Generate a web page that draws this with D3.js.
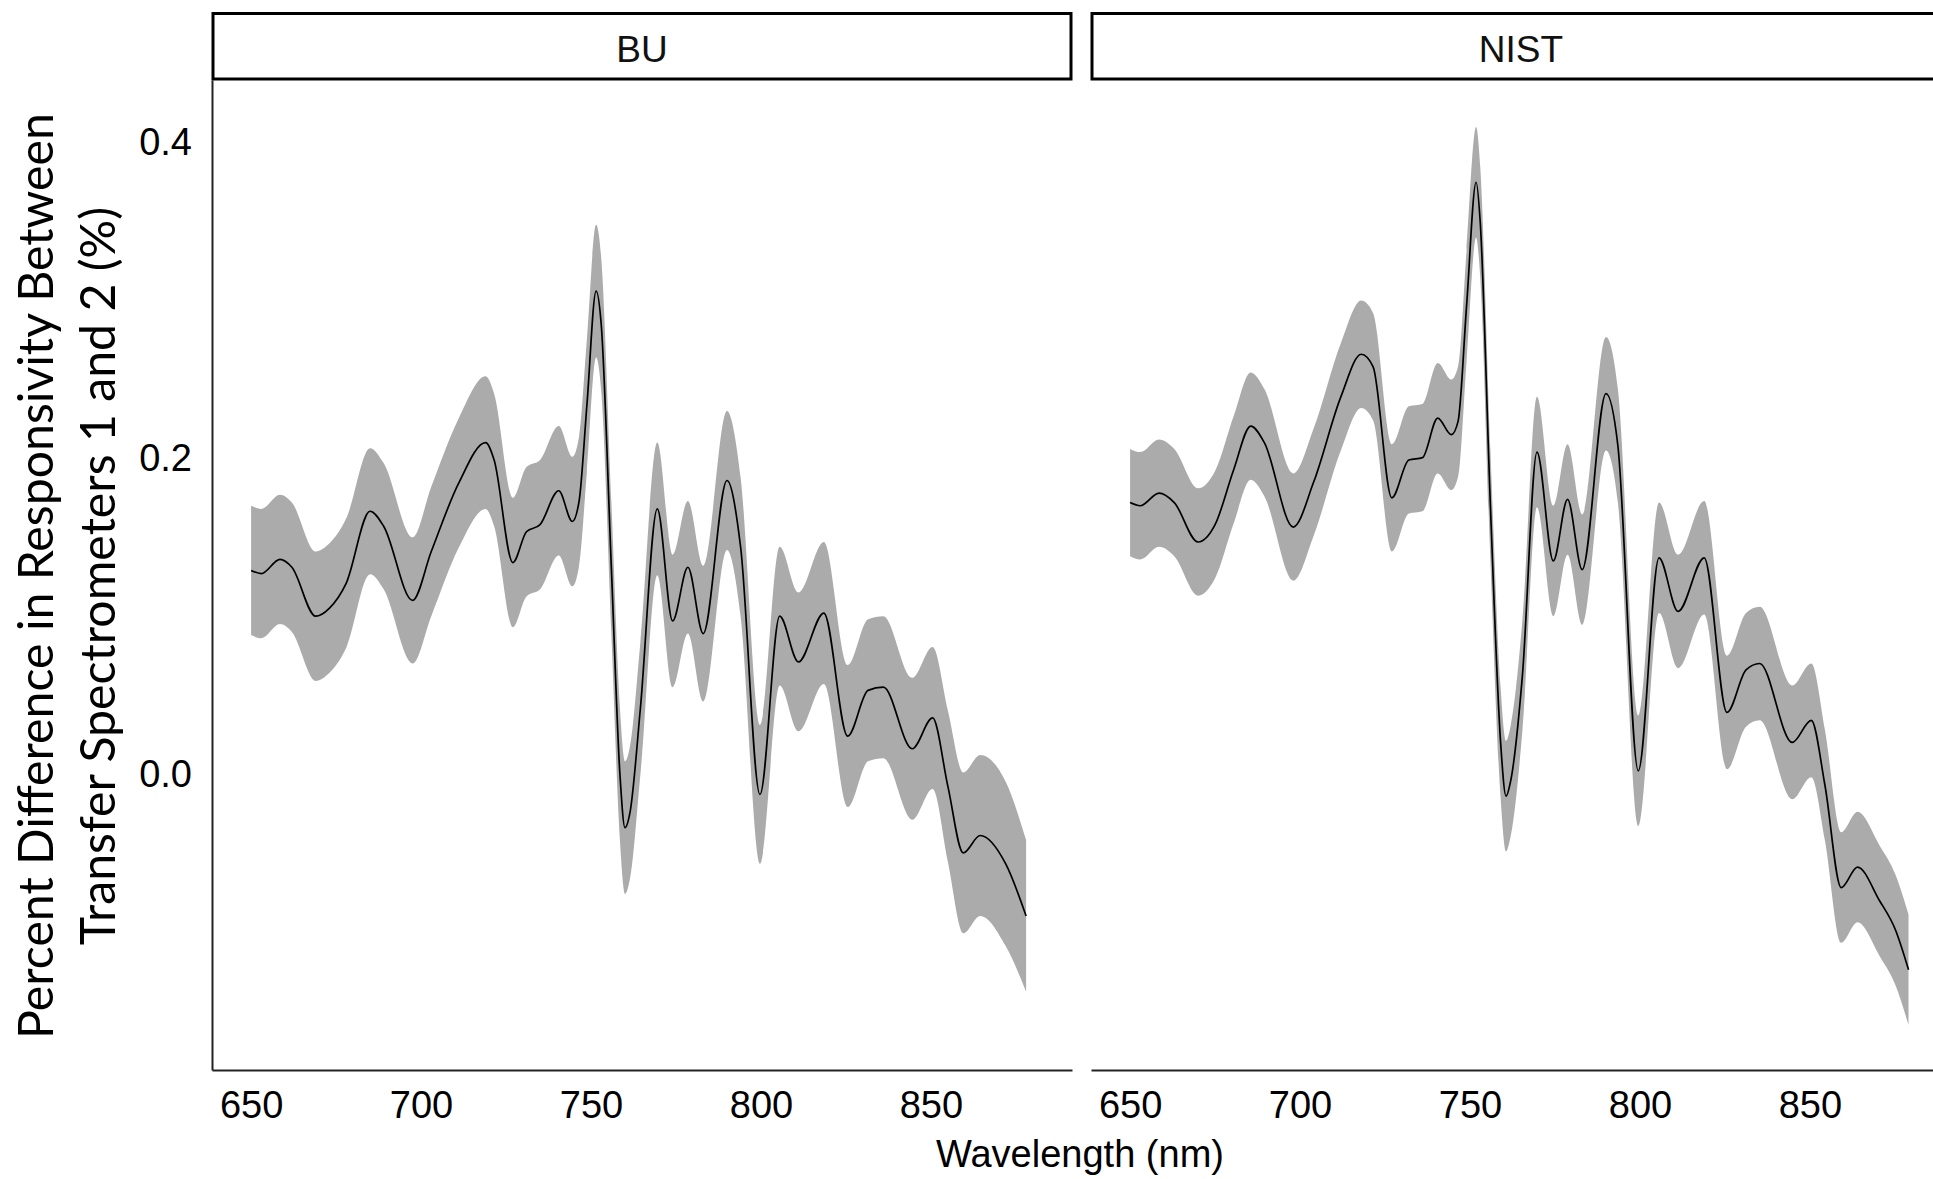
<!DOCTYPE html>
<html>
<head>
<meta charset="utf-8">
<script src="https://cdn.jsdelivr.net/npm/d3@7"></script>
<style>
    body { margin: 0; background: #fff; overflow: hidden; }
</style>
</head>
<body>
<script>
// panel names
var panels = ["BU", "NIST"];

// BU : wavelength (nm), smoothed difference (%), standard error
var buWave = [650, 653, 658.5, 662, 669, 673, 678, 685, 689, 697.5, 703, 711, 719, 721.5, 727, 731, 735, 740.5, 744.5, 746.5, 748.8, 751.5, 753, 756, 758.5, 760, 761.5, 764.5, 769.5, 774, 778.5, 783, 790, 794, 799.7, 805.5, 811, 818.5, 825.5, 831.5, 836, 844.5, 850.5, 855, 859.5, 864.5, 872, 878];
var buMid = [0.129, 0.127, 0.136, 0.131, 0.100, 0.105, 0.121, 0.1665, 0.157, 0.110, 0.141, 0.184, 0.210, 0.199, 0.134, 0.1535, 0.158, 0.1795, 0.160, 0.173, 0.234, 0.306, 0.285, 0.130, 0.000, -0.034, -0.024, 0.041, 0.168, 0.097, 0.131, 0.089, 0.186, 0.144, -0.013, 0.100, 0.071, 0.102, 0.024, 0.053, 0.055, 0.016, 0.0355, -0.008, -0.050, -0.039, -0.057, -0.090];
var buSe = [0.041, 0.041, 0.041, 0.041, 0.041, 0.041, 0.041, 0.040, 0.040, 0.040, 0.041, 0.041, 0.042, 0.042, 0.041, 0.041, 0.041, 0.041, 0.041, 0.041, 0.042, 0.042, 0.042, 0.042, 0.042, 0.042, 0.042, 0.042, 0.042, 0.042, 0.042, 0.043, 0.044, 0.044, 0.044, 0.044, 0.044, 0.045, 0.045, 0.045, 0.045, 0.045, 0.045, 0.048, 0.051, 0.051, 0.052, 0.048];

// NIST : wavelength (nm), smoothed difference (%), standard error
var nistWave = [650, 653, 658.5, 663, 670, 675, 680.5, 685.5, 689.5, 698, 704, 712, 718, 721.5, 727, 732, 736, 740.5, 744.5, 746.5, 749, 751.8, 753, 756, 759, 760.6, 762, 765.4, 769.7, 774.5, 778.7, 783, 790, 793.5, 799.5, 805.6, 811.2, 818.9, 825.6, 831.2, 835.2, 844.8, 850.4, 854.4, 859.2, 864, 870.4, 875.2, 879];
var nistMid = [0.172, 0.170, 0.178, 0.172, 0.147, 0.158, 0.193, 0.2205, 0.210, 0.1565, 0.185, 0.239, 0.266, 0.258, 0.175, 0.199, 0.2005, 0.2255, 0.215, 0.2236, 0.297, 0.375, 0.350, 0.170, 0.020, -0.014, -0.004, 0.062, 0.204, 0.135, 0.174, 0.1295, 0.241, 0.208, 0.002, 0.137, 0.103, 0.137, 0.039, 0.066, 0.070, 0.020, 0.034, -0.007, -0.072, -0.059, -0.080, -0.099, -0.124];
var nistSe = [0.034, 0.034, 0.034, 0.034, 0.034, 0.034, 0.034, 0.034, 0.034, 0.034, 0.034, 0.034, 0.034, 0.034, 0.034, 0.034, 0.034, 0.035, 0.035, 0.035, 0.035, 0.035, 0.035, 0.035, 0.035, 0.035, 0.035, 0.035, 0.035, 0.035, 0.035, 0.035, 0.036, 0.036, 0.035, 0.035, 0.036, 0.036, 0.036, 0.036, 0.036, 0.036, 0.036, 0.035, 0.035, 0.035, 0.035, 0.035, 0.035];

// axes
var xTicks = [650, 700, 750, 800, 850];
var yTicks = [0.0, 0.2, 0.4];
var yTickLabels = ["0.0", "0.2", "0.4"];
var xTitle = "Wavelength (nm)";
var yTitle = ["Percent Difference in Responsivity Between", "Transfer Spectrometers 1 and 2 (%)"];

var width = 1933,
    height = 1179;
var panelLeft = [212, 1091],
    panelW = 860,
    plotTop = 80,
    plotBottom = 1070;

var svg = d3.select("body")
    .append("svg")
    .attr("width", width)
    .attr("height", height)
    .style("font-family", "'Liberation Sans', Arial, sans-serif");

svg.append("rect").attr("width", width).attr("height", height).attr("fill", "#fff");

var y = d3.scaleLinear().domain([-0.1876, 0.4398]).range([plotBottom, plotTop]);

var series = [
    { wave: buWave, mid: buMid, se: buSe },
    { wave: nistWave, mid: nistMid, se: nistSe }
];

panels.forEach(function (name, p) {
    var x = d3.scaleLinear().domain([638.5, 891.5]).range([panelLeft[p], panelLeft[p] + panelW]);
    var s = series[p];
    var pts = s.wave.map(function (w, i) { return { w: w, m: s.mid[i], se: s.se[i] }; });

    // ribbon
    var area = d3.area()
        .x(function (d) { return x(d.w); })
        .y0(function (d) { return y(d.m - d.se); })
        .y1(function (d) { return y(d.m + d.se); })
        .curve(d3.curveMonotoneX);
    svg.append("path").datum(pts).attr("d", area).attr("fill", "#ababab");

    // smoothed line
    var line = d3.line()
        .x(function (d) { return x(d.w); })
        .y(function (d) { return y(d.m); })
        .curve(d3.curveMonotoneX);
    svg.append("path").datum(pts).attr("d", line)
        .attr("fill", "none").attr("stroke", "#000").attr("stroke-width", 1.7);

    // x axis
    var gx = svg.append("g")
        .attr("transform", "translate(0," + plotBottom + ")")
        .call(d3.axisBottom(x).tickValues(xTicks).tickSize(0).tickSizeOuter(0).tickPadding(21));
    gx.select(".domain").attr("stroke", "#222").attr("stroke-width", 2);
    gx.selectAll("text").attr("font-size", "38px").attr("fill", "#000").style("font-family", "'Liberation Sans', Arial, sans-serif");

    // y axis only on first panel
    if (p == 0) {
        var gy = svg.append("g")
            .attr("transform", "translate(" + panelLeft[p] + ",0)")
            .call(d3.axisLeft(y).tickValues(yTicks).tickSize(0).tickSizeOuter(0).tickPadding(20)
                .tickFormat(function (d, i) { return yTickLabels[i]; }));
        gy.select(".domain").attr("stroke", "#222").attr("stroke-width", 2);
        gy.selectAll("text").attr("font-size", "38px").attr("fill", "#000").style("font-family", "'Liberation Sans', Arial, sans-serif");
    }

    // strip
    svg.append("rect")
        .attr("x", panelLeft[p] + 1)
        .attr("y", 13.5)
        .attr("width", panelW - 2)
        .attr("height", 65.5)
        .attr("fill", "#fff")
        .attr("stroke", "#000")
        .attr("stroke-width", 3);
    svg.append("text")
        .attr("x", panelLeft[p] + panelW / 2)
        .attr("y", 62)
        .attr("text-anchor", "middle")
        .attr("font-size", "37px")
        .attr("fill", "#111")
        .text(name);
});

// x title
svg.append("text")
    .attr("x", 1080)
    .attr("y", 1167)
    .attr("text-anchor", "middle")
    .attr("font-size", "38px")
    .attr("fill", "#000")
    .text(xTitle);

// y title, two lines, sized to the reference length
var yLines = svg.selectAll(".ytitle")
    .data(yTitle)
    .enter()
    .append("text")
    .attr("class", "ytitle")
    .attr("text-anchor", "middle")
    .attr("transform", function (d, i) { return "translate(" + [53, 115][i] + ",576) rotate(-90)"; })
    .style("font-family", "Lato, 'Open Sans', sans-serif")
    .attr("font-size", "48px")
    .attr("fill", "#000")
    .text(function (d) { return d; });
var len0 = yLines.nodes()[0].getComputedTextLength();
yLines.attr("font-size", (48 * 926 / len0) + "px");
</script>
</body>
</html>
